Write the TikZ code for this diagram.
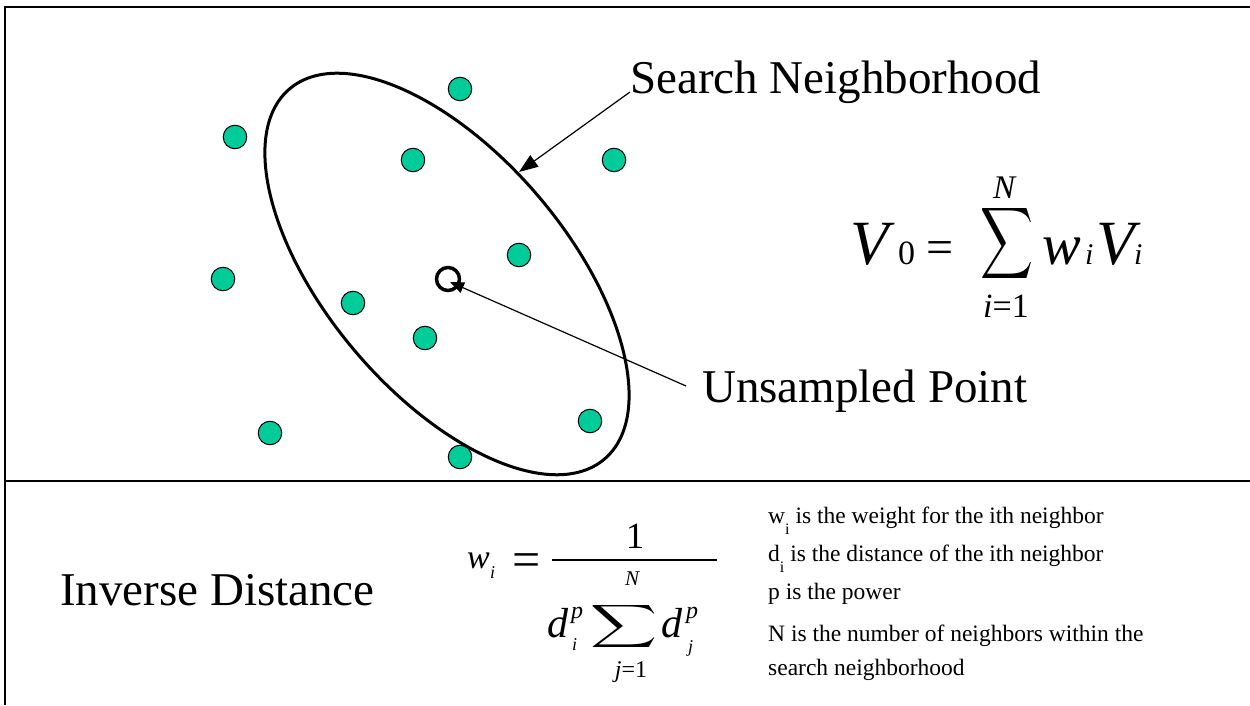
\documentclass[tikz,border=0pt]{standalone}
\usepackage{fontspec}
\setmainfont{Liberation Serif}
\usepackage{graphicx}
\usetikzlibrary{arrows.meta}
\definecolor{dotgreen}{RGB}{0,204,153}
\newcommand\fs[1]{\fontsize{#1}{#1}\selectfont}
\newcommand\lsub[1]{\raisebox{-0.5em}{\fontsize{16}{16}\selectfont #1}}
\begin{document}
\begin{tikzpicture}[x=1pt,y=1pt,
  sample/.style={circle,draw=black,line width=1pt,fill=dotgreen,minimum size=23.5pt,inner sep=0pt},
  txt/.style={inner sep=0pt,anchor=base west},
  ctxt/.style={inner sep=0pt,anchor=base},
  frameline/.style={line width=2pt},
  ptr/.style={line width=1.2pt,-{Triangle[length=19pt,width=14pt]}},
  ptrsmall/.style={line width=1.2pt,-{Triangle[length=14pt,width=11pt]}}
]
\useasboundingbox (0,0) rectangle (1250,705);
\fill[white] (0,0) rectangle (1250,705);
% frame
\coordinate (tl) at (5,698);
\coordinate (tr) at (1250,698);
\coordinate (bl) at (5,0);
\coordinate (ml) at (5,224);
\coordinate (mr) at (1250,224);
\draw[frameline] (tr) -- (tl) -- (bl);
\draw[frameline] (ml) -- (mr);
% samples
\node[sample] (s1) at (460,616) {};
\node[sample] (s2) at (235,568) {};
\node[sample] (s3) at (413,545) {};
\node[sample] (s4) at (614,545) {};
\node[sample] (s5) at (519,450) {};
\node[sample] (s6) at (223,426) {};
\node[sample] (s7) at (353,402) {};
\node[sample] (s8) at (425,367) {};
\node[sample] (s9) at (270,272) {};
\node[sample] (s10) at (590,284) {};
\node[sample] (s11) at (460,248) {};
% search neighborhood ellipse
\coordinate (hoodc) at (447,431);
\draw[line width=3pt, rotate around={-49.6:(hoodc)}] (hoodc) ellipse [x radius=243, y radius=120];
% unsampled point
\node[circle,draw=black,line width=3.5pt,minimum size=23pt,inner sep=0pt] (up) at (448,426) {};
% labels
\node[txt,font=\fs{47}] (snlab) at (630,611) {Search Neighborhood};
\node[txt,font=\fs{47}] (uplab) at (702,302) {Unsampled Point};
\node[txt,font=\fs{47}] (idlab) at (60,100) {Inverse Distance};
% arrows
\coordinate (a1s) at (630,613);
\coordinate (a1e) at (519,533);
\draw[ptr] (a1s) -- (a1e);
\coordinate (a2s) at (686,319);
\coordinate (a2e) at (450,423);
\draw[ptrsmall] (a2s) -- (a2e);
% formula V0
\node[txt,font=\fs{63}\itshape] (V0) at (850,440) {V};
\node[txt,font=\fs{34}] (zero) at (898,440) {0};
\node[txt,font=\fs{48}] (eq1) at (926,441) {=};
\node[inner sep=0pt,anchor=north west] (sum1) at (980,502) {\resizebox*{53pt}{80pt}{$\displaystyle\sum$}};
\node[ctxt,font=\fs{33}\itshape] (N1) at (1004,506) {N};
\node[ctxt,font=\fs{34}] (lim1) at (1006,387) {\textit{i}=1};
\node[txt,font=\fs{58}\itshape] (w1) at (1042,440) {w};
\node[txt,font=\fs{30}\itshape] (wi1) at (1085,440) {i};
\node[txt,font=\fs{63}\itshape] (V1) at (1096,440) {V};
\node[txt,font=\fs{30}\itshape] (Vi1) at (1134,440) {i};
% formula w_i
\node[txt,font=\fs{34}\itshape] (w2) at (467,137) {w};
\node[txt,font=\fs{18}\itshape] (wi2) at (490,127) {i};
\node[txt,font=\fs{50}] (eq2) at (512,129) {=};
\coordinate (fl) at (552,145);
\coordinate (fr) at (717,145);
\draw[line width=2.5pt] (fl) -- (fr);
\node[ctxt,font=\fs{37}] (one) at (635,157) {1};
\node[txt,font=\fs{42}\itshape] (d1) at (547,68) {d};
\node[txt,font=\fs{24}\itshape] (p1) at (571,87) {p};
\node[txt,font=\fs{18}\itshape] (i2) at (572,55) {i};
\node[inner sep=0pt,anchor=north west] (sum2) at (590,103) {\resizebox*{67pt}{48pt}{$\displaystyle\sum$}};
\node[ctxt,font=\fs{21}\itshape] (N2) at (632,120) {N};
\node[ctxt,font=\fs{24}] (lim2) at (631,28) {\textit{j}=1};
\node[txt,font=\fs{42}\itshape] (d2) at (661,68) {d};
\node[txt,font=\fs{24}\itshape] (p2) at (686,87) {p};
\node[txt,font=\fs{18}\itshape] (j2) at (688,53) {j};
% explanation
\node[txt,font=\fs{23.5}] (l1) at (768,182) {w\lsub{i} is the weight for the ith neighbor};
\node[txt,font=\fs{23.5}] (l2) at (768,144) {d\lsub{i} is the distance of the ith neighbor};
\node[txt,font=\fs{23.5}] (l3) at (768,106) {p is the power};
\node[txt,font=\fs{23.5}] (l4) at (768,64) {N is the number of neighbors within the};
\node[txt,font=\fs{23.5}] (l5) at (768,30) {search neighborhood};
\end{tikzpicture}
\end{document}
